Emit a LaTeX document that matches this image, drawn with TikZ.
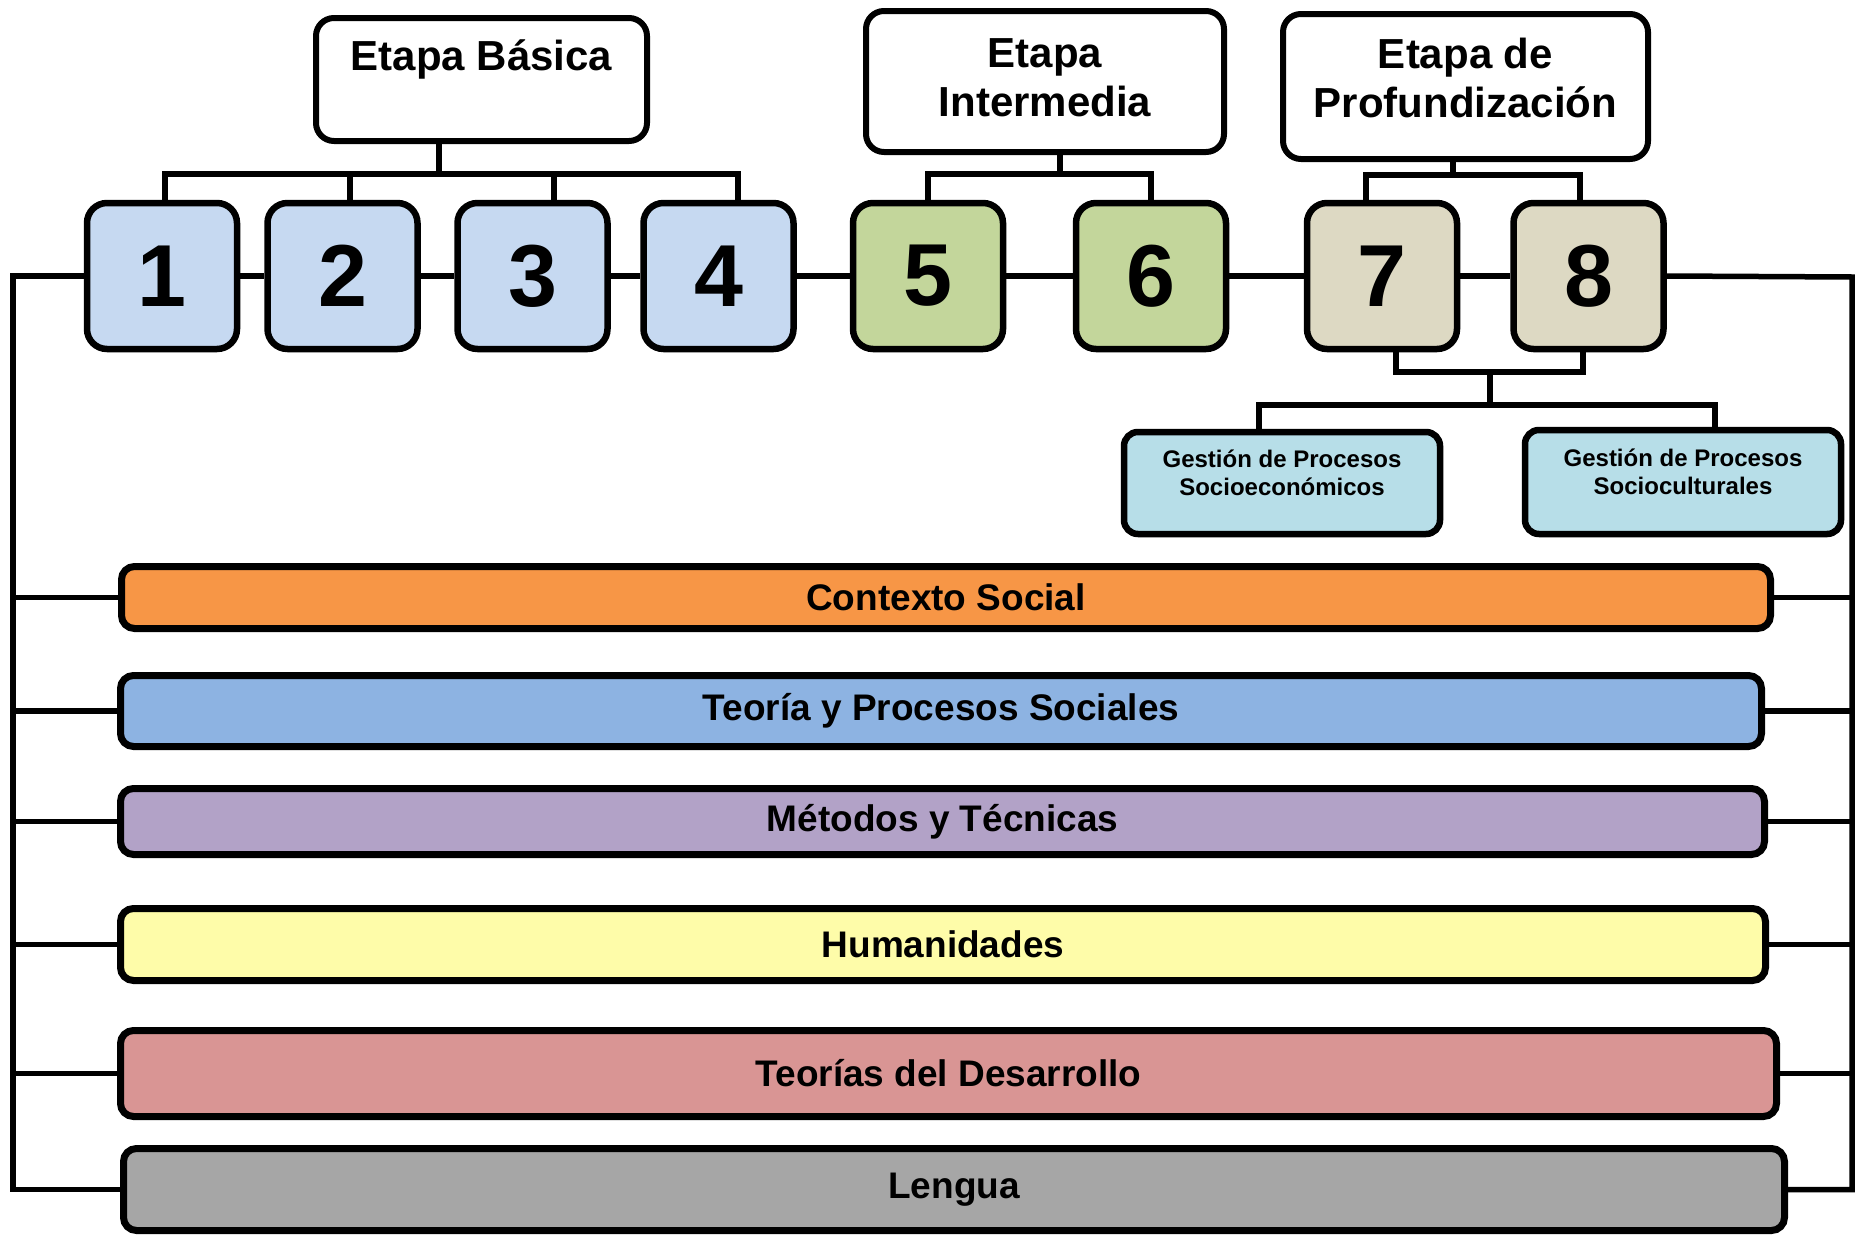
\documentclass[tikz,border=0pt]{standalone}
\usepackage{fontspec}
\setmainfont{Liberation Sans}
\definecolor{cnum}{HTML}{C6D9F1}
\definecolor{cgreen}{HTML}{C3D69B}
\definecolor{ctan}{HTML}{DDD9C3}
\definecolor{cgest}{HTML}{B7DEE8}
\definecolor{corange}{HTML}{F79646}
\definecolor{cblue}{HTML}{8DB3E2}
\definecolor{cpurple}{HTML}{B2A2C7}
\definecolor{cyellow}{HTML}{FEFCA9}
\definecolor{cred}{HTML}{D99594}
\definecolor{cgray}{HTML}{A6A6A6}
\begin{document}
\begin{tikzpicture}[x=1pt,y=-1pt,
  etapa/.style={draw,fill=white,line width=6pt,rounded corners=18pt,inner sep=0pt,align=center,
    font=\fontsize{42}{49}\selectfont\bfseries},
  numbox/.style={draw,line width=6.5pt,rounded corners=20pt,inner sep=0pt,
    minimum width=150pt,minimum height=146pt,font=\fontsize{88}{96}\selectfont\bfseries},
  gest/.style={draw,fill=cgest,line width=6.5pt,rounded corners=14pt,inner sep=0pt,align=center,
    minimum width=316pt,font=\fontsize{24}{28.5}\selectfont\bfseries},
  bar/.style={draw,line width=7pt,rounded corners=13pt,inner sep=0pt,
    font=\fontsize{37}{42}\selectfont\bfseries},
  conn/.style={line width=5.5pt}
]
\useasboundingbox (0,0) rectangle (1864,1237);

% stage boxes
\node[etapa,minimum width=331pt,minimum height=123pt,text depth=49pt] (EB) at (481.5,79.5) {Etapa Básica};
\node[etapa,minimum width=358pt,minimum height=141pt,text depth=8pt] (EI) at (1045,81.5) {Etapa\\Intermedia};
\node[etapa,minimum width=365pt,minimum height=145pt,text depth=18pt] (EP) at (1465.5,86.5) {Etapa de\\Profundización};

% semesters
\node[numbox,fill=cnum] (n1) at (162,276) {1};
\node[numbox,fill=cnum] (n2) at (342.5,276) {2};
\node[numbox,fill=cnum] (n3) at (532.5,276) {3};
\node[numbox,fill=cnum] (n4) at (718.5,276) {4};
\node[numbox,fill=cgreen] (n5) at (928,276) {5};
\node[numbox,fill=cgreen] (n6) at (1151,276) {6};
\node[numbox,fill=ctan] (n7) at (1382,276) {7};
\node[numbox,fill=ctan] (n8) at (1588.5,276) {8};

% specialisations
\node[gest,minimum height=102pt,text depth=21pt] (G1) at (1282,483) {Gestión de Procesos\\Socioeconómicos};
\node[gest,minimum height=104pt,text depth=21pt] (G2) at (1683,482) {Gestión de Procesos\\Socioculturales};

% bars
\node[bar,fill=corange,minimum width=1649pt,minimum height=62pt] (bc) at (946,597.5) {Contexto Social};
\node[bar,fill=cblue,minimum width=1641pt,minimum height=71pt] (bt) at (941,711) {Teoría y Procesos Sociales};
\node[bar,fill=cpurple,minimum width=1644pt,minimum height=66pt] (bm) at (942.5,821.5) {Métodos y Técnicas};
\node[bar,fill=cyellow,minimum width=1645pt,minimum height=72pt] (bh) at (943,944.5) {Humanidades};
\node[bar,fill=cred,minimum width=1656pt,minimum height=86pt] (bd) at (948.5,1073.5) {Teorías del Desarrollo};
\node[bar,fill=cgray,minimum width=1661pt,minimum height=82pt] (bl) at (954,1189.5) {Lengua};

% coordinates
\coordinate (TL) at (13,276);
\coordinate (TR) at (1852,277);
\coordinate (ebj) at (439,174);
\coordinate (eb1) at (165,174);
\coordinate (eb2) at (350,174);
\coordinate (eb3) at (554,174);
\coordinate (eb4) at (738,174);
\coordinate (eij) at (1060,174);
\coordinate (ei5) at (928,174);
\coordinate (ei6) at (1151,174);
\coordinate (epj) at (1453,175);
\coordinate (ep7) at (1366,175);
\coordinate (ep8) at (1580,175);
\coordinate (q7) at (1396,372);
\coordinate (q8) at (1583,372);
\coordinate (qj) at (1490,372);
\coordinate (rj) at (1490,405);
\coordinate (r1) at (1259,405);
\coordinate (r2) at (1715,405);

% main line
\draw[conn] (n1.west) -- (TL) -- (TL |- bl.west) -- (bl.west);
\draw[conn] (n1.east) -- (n2.west);
\draw[conn] (n2.east) -- (n3.west);
\draw[conn] (n3.east) -- (n4.west);
\draw[conn] (n4.east) -- (n5.west);
\draw[conn] (n5.east) -- (n6.west);
\draw[conn] (n6.east) -- (n7.west);
\draw[conn] (n7.east) -- (n8.west);
\draw[conn] (n8.east) -- (TR) -- (TR |- bl.east) -- (bl.east);
\foreach \b in {bc,bt,bm,bh,bd}{
  \draw[conn] (TL |- \b.west) -- (\b.west);
  \draw[conn] (\b.east) -- (TR |- \b.east);
}

% stage trees
\draw[conn] (EB.south -| ebj) -- (ebj);
\draw[conn] (n1.north -| eb1) -- (eb1) -- (eb4) -- (n4.north -| eb4);
\draw[conn] (n2.north -| eb2) -- (eb2);
\draw[conn] (n3.north -| eb3) -- (eb3);
\draw[conn] (EI.south -| eij) -- (eij);
\draw[conn] (n5.north -| ei5) -- (ei5) -- (ei6) -- (n6.north -| ei6);
\draw[conn] (EP.south -| epj) -- (epj);
\draw[conn] (n7.north -| ep7) -- (ep7) -- (ep8) -- (n8.north -| ep8);

% specialisation tree
\draw[conn] (n7.south -| q7) -- (q7) -- (q8) -- (n8.south -| q8);
\draw[conn] (qj) -- (rj);
\draw[conn] (G1.north -| r1) -- (r1) -- (r2) -- (G2.north -| r2);
\end{tikzpicture}
\end{document}
